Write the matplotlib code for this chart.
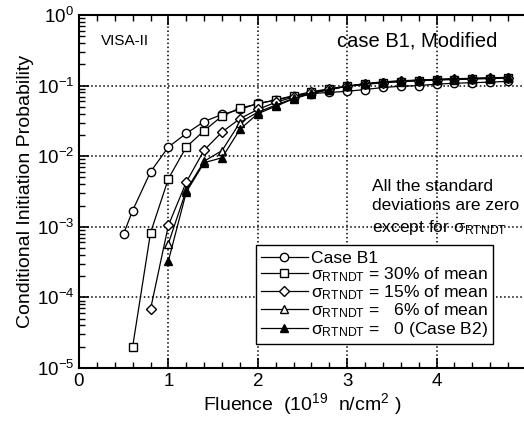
import matplotlib
matplotlib.use('Agg')
import matplotlib.pyplot as plt
from matplotlib.ticker import LogLocator, MultipleLocator, NullFormatter

plt.rcParams['font.family'] = ['Liberation Sans', 'DejaVu Sans']
plt.rcParams['mathtext.fontset'] = 'custom'
plt.rcParams['mathtext.rm'] = 'Liberation Sans'
plt.rcParams['mathtext.it'] = 'Liberation Sans'
plt.rcParams['mathtext.sf'] = 'Liberation Sans'

# fluence (1e19 n/cm2) and conditional initiation probability per case
x_b1 = [0.5, 0.6, 0.8, 1.0, 1.2, 1.4, 1.6, 1.8, 2.0, 2.2, 2.4, 2.6, 2.8, 3.0,
        3.2, 3.4, 3.6, 3.8, 4.0, 4.2, 4.4, 4.6, 4.8]
p_b1 = [8.0e-4, 1.7e-3, 6.0e-3, 1.35e-2, 2.1e-2, 3.1e-2, 3.9e-2, 4.6e-2, 5.6e-2,
        6.2e-2, 7.1e-2, 7.7e-2, 8.0e-2, 8.3e-2, 8.8e-2, 9.4e-2, 9.8e-2, 1.0e-1,
        1.05e-1, 1.08e-1, 1.1e-1, 1.12e-1, 1.15e-1]

x_30 = [0.6, 0.8, 1.0, 1.2, 1.4, 1.6, 1.8, 2.0, 2.2, 2.4, 2.6, 2.8, 3.0,
        3.2, 3.4, 3.6, 3.8, 4.0, 4.2, 4.4, 4.6, 4.8]
p_30 = [2.0e-5, 8.2e-4, 4.8e-3, 1.35e-2, 2.3e-2, 3.7e-2, 4.8e-2, 5.5e-2, 6.3e-2,
        7.2e-2, 8.2e-2, 9.0e-2, 9.8e-2, 1.04e-1, 1.1e-1, 1.14e-1, 1.17e-1,
        1.2e-1, 1.22e-1, 1.24e-1, 1.26e-1, 1.28e-1]

x_15 = [0.8, 1.0, 1.2, 1.4, 1.6, 1.8, 2.0, 2.2, 2.4, 2.6, 2.8, 3.0,
        3.2, 3.4, 3.6, 3.8, 4.0, 4.2, 4.4, 4.6, 4.8]
p_15 = [6.8e-5, 1.05e-3, 4.3e-3, 1.22e-2, 2.2e-2, 3.4e-2, 4.6e-2, 5.8e-2, 6.9e-2,
        8.0e-2, 8.9e-2, 9.8e-2, 1.05e-1, 1.1e-1, 1.15e-1, 1.18e-1, 1.21e-1,
        1.23e-1, 1.25e-1, 1.27e-1, 1.29e-1]

x_6 = [1.0, 1.2, 1.4, 1.6, 1.8, 2.0, 2.2, 2.4, 2.6, 2.8, 3.0,
       3.2, 3.4, 3.6, 3.8, 4.0, 4.2, 4.4, 4.6, 4.8]
p_6 = [5.8e-4, 3.3e-3, 8.5e-3, 1.2e-2, 3.0e-2, 4.2e-2, 5.3e-2, 6.6e-2, 7.8e-2,
       8.8e-2, 9.8e-2, 1.06e-1, 1.12e-1, 1.16e-1, 1.19e-1, 1.22e-1, 1.24e-1,
       1.26e-1, 1.28e-1, 1.3e-1]

x_0 = [1.0, 1.2, 1.4, 1.6, 1.8, 2.0, 2.2, 2.4, 2.6, 2.8, 3.0,
       3.2, 3.4, 3.6, 3.8, 4.0, 4.2, 4.4, 4.6, 4.8]
p_0 = [3.3e-4, 3.1e-3, 8.1e-3, 9.5e-3, 2.4e-2, 4.0e-2, 5.1e-2, 6.5e-2, 7.7e-2,
       8.8e-2, 9.8e-2, 1.07e-1, 1.13e-1, 1.17e-1, 1.2e-1, 1.23e-1, 1.25e-1,
       1.27e-1, 1.29e-1, 1.31e-1]

labels = ['Case B1',
          'σ$_{\\rm RTNDT}$ = 30% of mean',
          'σ$_{\\rm RTNDT}$ = 15% of mean',
          'σ$_{\\rm RTNDT}$ =   6% of mean',
          'σ$_{\\rm RTNDT}$ =   0 (Case B2)']

fig = plt.figure(figsize=(5.24, 4.24), dpi=100)
ax = fig.add_axes([79 / 524, 1 - 368 / 424, 447 / 524, 353 / 424])

kw = dict(color='black', lw=0.9, ms=6, mew=1.0)
ax.plot(x_b1, p_b1, marker='o', mfc='white', label=labels[0], **kw)
ax.plot(x_30, p_30, marker='s', mfc='white', label=labels[1], **kw)
ax.plot(x_15, p_15, marker='D', mfc='white', label=labels[2], ms=5, color='black', lw=0.9, mew=1.0)
ax.plot(x_6, p_6, marker='^', mfc='white', label=labels[3], **kw)
ax.plot(x_0, p_0, marker='^', mfc='black', label=labels[4], **kw)

ax.set_yscale('log')
ax.set_xlim(0, 5)
ax.set_ylim(1e-5, 1)
ax.set_xticks([0, 1, 2, 3, 4])
ax.xaxis.set_minor_locator(MultipleLocator(0.2))
ax.yaxis.set_major_locator(LogLocator(base=10, numticks=10))
ax.yaxis.set_minor_locator(LogLocator(base=10, subs=range(2, 10), numticks=10))
ax.yaxis.set_minor_formatter(NullFormatter())

ax.tick_params(which='both', direction='in', top=True, right=False, labelsize=13.5)
ax.tick_params(which='major', length=7, width=1.2)
ax.tick_params(which='minor', length=4, width=1.0)
ax.grid(True, which='major', color='black', linestyle=':', linewidth=1.1)
ax.spines['right'].set_visible(False)
for s in ['left', 'top', 'bottom']:
    ax.spines[s].set_linewidth(1.5)

ax.set_xlabel(r'Fluence  (10$^{19}$  n/cm$^{2}$ )', fontsize=14, labelpad=1)
ax.set_ylabel('Conditional Initiation Probability', fontsize=14, labelpad=2)

ax.text(0.05, 0.925, 'VISA-II', transform=ax.transAxes, fontsize=11, va='center')
ax.text(0.937, 0.925, 'case B1, Modified', transform=ax.transAxes, fontsize=14.5,
        va='center', ha='right')
ax.text(0.655, 0.535, 'All the standard\ndeviations are zero\nexcept for σ$_{\\rm RTNDT}$',
        transform=ax.transAxes, fontsize=12.5, va='top', linespacing=1.35)

leg = ax.legend(loc='lower left', bbox_to_anchor=(0.395, 0.068), fontsize=12.6,
                frameon=True, fancybox=False, edgecolor='black', framealpha=1,
                handlelength=2.7, handletextpad=0.15, labelspacing=-0.03,
                borderpad=0.3, borderaxespad=0)
leg.get_frame().set_linewidth(1.0)

fig.savefig('out.png', dpi=100)
